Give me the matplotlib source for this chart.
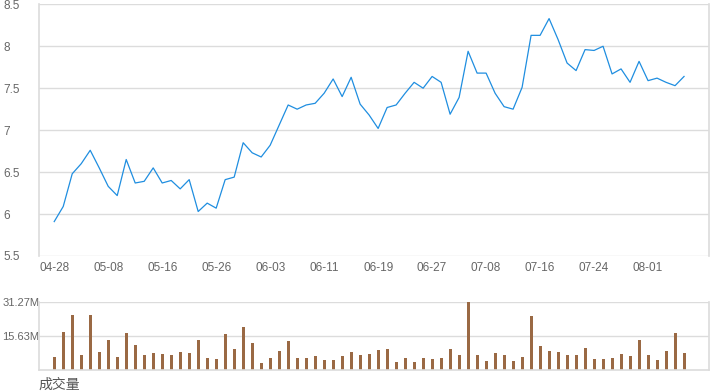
import matplotlib
matplotlib.use('Agg')
import matplotlib.pyplot as plt
import numpy as np

plt.rcParams['font.family'] = ['Liberation Sans', 'Noto Sans CJK SC', 'DejaVu Sans']

# closing prices, one per trading day
prices = [5.91, 6.09, 6.48, 6.60, 6.76, 6.55, 6.33, 6.22, 6.65, 6.37,
          6.39, 6.55, 6.37, 6.40, 6.30, 6.41, 6.03, 6.13, 6.07, 6.41,
          6.44, 6.85, 6.73, 6.68, 6.82, 7.06, 7.30, 7.25, 7.30, 7.32,
          7.44, 7.61, 7.40, 7.63, 7.31, 7.18, 7.02, 7.27, 7.30, 7.44,
          7.57, 7.50, 7.64, 7.57, 7.19, 7.39, 7.94, 7.68, 7.68, 7.44,
          7.28, 7.25, 7.51, 8.13, 8.13, 8.33, 8.08, 7.80, 7.71, 7.96,
          7.95, 8.00, 7.67, 7.73, 7.57, 7.82, 7.59, 7.62, 7.57, 7.53,
          7.64]

# volume in millions
volumes = [6.01, 17.56, 25.42, 6.93, 25.42, 8.32, 13.86, 6.01, 17.10, 11.55,
           6.93, 7.86, 7.39, 6.93, 8.32, 7.86, 13.86, 5.55, 5.08, 16.64,
           9.70, 19.87, 12.48, 3.23, 5.55, 8.78, 13.40, 5.55, 5.55, 6.47,
           4.62, 4.62, 6.47, 8.32, 6.93, 7.39, 9.24, 9.70, 3.70, 5.55,
           3.70, 5.55, 5.08, 5.55, 9.70, 6.93, 31.27, 6.93, 4.16, 7.86,
           6.93, 4.16, 6.01, 24.95, 11.09, 8.78, 8.32, 6.93, 6.93, 10.17,
           5.08, 5.08, 5.55, 7.39, 6.47, 13.86, 6.93, 4.62, 8.78, 17.10,
           7.86]

date_labels = ['04-28', '05-08', '05-16', '05-26', '06-03', '06-11',
               '06-19', '06-27', '07-08', '07-16', '07-24', '08-01']
price_ticks = [5.5, 6, 6.5, 7, 7.5, 8, 8.5]
price_tick_labels = ['5.5', '6', '6.5', '7', '7.5', '8', '8.5']
vol_tick_labels = ['15.63M', '31.27M']

x = np.arange(len(prices))
grid_c = '#dcdcdc'
txt_c = '#666666'

fig = plt.figure(figsize=(7.2, 3.92), dpi=100)
ax = fig.add_axes([0.0537, 0.347, 0.9306, 0.642])
axv = fig.add_axes([0.0537, 0.0561, 0.9306, 0.1727])

# price line
ax.plot(x, prices, color='#1f8ee0', linewidth=0.9)
ax.set_xlim(-1.73, 72.74)
ax.set_ylim(5.5, 8.5)
ax.set_yticks(price_ticks)
ax.set_yticklabels(price_tick_labels)
ax.set_xticks(x[::6])
ax.set_xticklabels(date_labels)
ax.grid(axis='y', color=grid_c, linewidth=1)
ax.set_axisbelow(True)
for s in ['top', 'bottom']:
    ax.spines[s].set_visible(False)
for s in ['left', 'right']:
    ax.spines[s].set_color(grid_c)
    ax.spines[s].set_linewidth(1.2)
ax.tick_params(axis='both', length=0, colors=txt_c, labelsize=8.5)
ax.tick_params(axis='y', pad=25.5)
for lbl in ax.get_yticklabels():
    lbl.set_horizontalalignment('left')
ax.tick_params(axis='x', pad=4)

# volume bars
vmax = max(volumes)
axv.bar(x, volumes, width=0.33, color='#9a6944')
axv.set_xlim(-1.73, 72.74)
axv.set_ylim(0, vmax)
axv.set_yticks([vmax / 2, vmax])
axv.set_yticklabels(vol_tick_labels)
axv.set_xticks([])
axv.grid(axis='y', color=grid_c, linewidth=1)
axv.set_axisbelow(True)
axv.spines['top'].set_visible(False)
for s in ['left', 'right', 'bottom']:
    axv.spines[s].set_color(grid_c)
    axv.spines[s].set_linewidth(1.2)
axv.tick_params(axis='y', length=0, colors=txt_c, labelsize=8, pad=26)
for lbl in axv.get_yticklabels():
    lbl.set_horizontalalignment('left')

fig.text(38 / 720, 1 - 385 / 392, '成交量', fontsize=10, color='#555555',
         ha='left', va='center')

fig.savefig('out.png', dpi=100)
